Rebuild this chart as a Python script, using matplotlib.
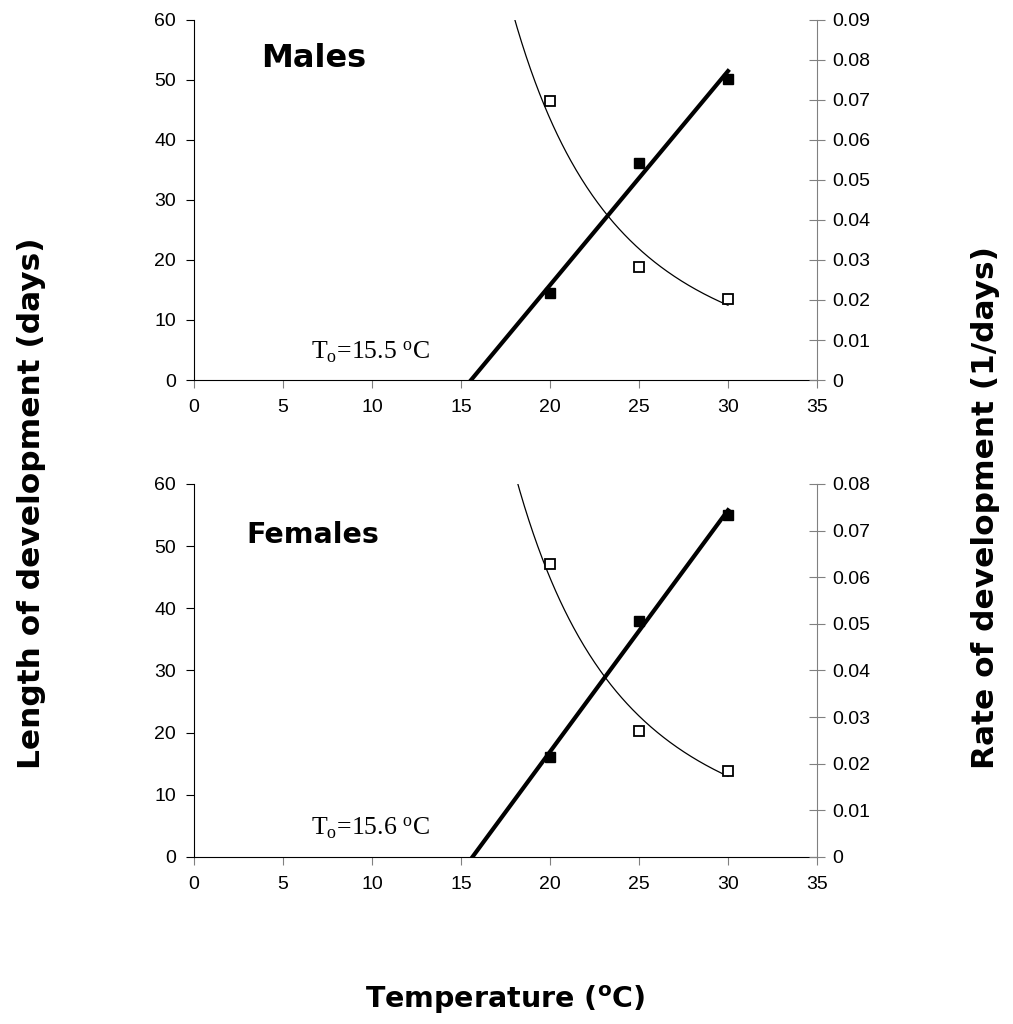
import numpy as np
import matplotlib.pyplot as plt

plt.rcParams['font.family'] = ['DejaVu Sans']
plt.rcParams['mathtext.default'] = 'regular'

# Temperatures (°C)
temps = [20, 25, 30]

# Males: length of development (days, left axis) and rate (1/days, right axis)
male_days = [46.5, 18.9, 13.5]
male_rate = [0.0218, 0.0543, 0.0753]

# Females
female_days = [47.2, 20.3, 13.8]
female_rate = [0.0215, 0.0506, 0.0733]

panels = [
    ('Males', male_days, male_rate, 0.09, 'T$_o$=15.5 $^o$C', 23, 53.5),
    ('Females', female_days, female_rate, 0.08, 'T$_o$=15.6 $^o$C', 20.5, 51.8),
]

fig = plt.figure(figsize=(10.13, 10.24), dpi=100)
rects = [[0.1915, 0.6289, 0.6150, 0.3516],
         [0.1915, 0.1631, 0.6150, 0.3643]]

for rect, (name, days, rate, rmax, to_label, fsize, ty) in zip(rects, panels):
    ax = fig.add_axes(rect)
    ax2 = ax.twinx()
    t = np.array(temps, dtype=float)

    # linear fit of rate -> threshold temperature
    slope, icpt = np.polyfit(t, rate, 1)
    t0 = -icpt / slope
    tl = np.array([t0, 30])
    ax2.plot(tl, slope * tl + icpt, color='black', lw=3.0, zorder=3)
    ax2.plot(t, rate, 's', color='black', ms=7.5, zorder=4)

    # power fit of length
    b, loga = np.polyfit(np.log(t), np.log(days), 1)
    tc = np.linspace(15, 30, 300)
    ax.plot(tc, np.exp(loga) * tc ** b, color='black', lw=0.9)
    ax.plot(t, days, 's', mfc='white', mec='black', mew=1.3, ms=7.5)

    ax.set_xlim(0, 35)
    ax.set_ylim(0, 60)
    ax2.set_ylim(0, rmax)
    ax.set_xticks(range(0, 36, 5))
    ax.set_yticks(range(0, 61, 10))
    ax2.set_yticks(np.arange(0, rmax + 1e-9, 0.01))
    ax2.set_yticklabels(['0'] + ['%.2f' % v for v in np.arange(0.01, rmax + 1e-9, 0.01)])

    for a in (ax, ax2):
        a.spines['top'].set_visible(False)
        a.patch.set_visible(False)
        for lab in a.get_xticklabels() + a.get_yticklabels():
            lab.set_family('Liberation Sans')
    ax.spines['right'].set_visible(False)
    ax2.spines['left'].set_visible(False)
    ax2.spines['bottom'].set_visible(False)
    ax2.spines['right'].set_color('#808080')
    ax.spines['left'].set_color('black')
    ax.spines['bottom'].set_color('black')

    ax.tick_params(axis='x', direction='out', length=6, color='#808080',
                   labelsize=14, pad=8)
    ax.tick_params(axis='y', direction='out', length=6, color='black',
                   labelsize=14, pad=7)
    ax2.tick_params(axis='y', direction='inout', length=12, color='#808080',
                    labelsize=14, pad=5)

    ax.text(6.7, ty, name, fontsize=fsize, fontweight='bold',
            ha='center', va='center')
    ax.text(6.6, 4.6, to_label, fontsize=18.5, family='Liberation Serif',
            ha='left', va='center')

fig.text(32 / 1013, 1 - 503 / 1024, 'Length of development (days)',
         rotation=90, fontsize=22.5, fontweight='bold', ha='center', va='center')
fig.text(985 / 1013, 1 - 508 / 1024, 'Rate of development (1/days)',
         rotation=90, fontsize=22.5, fontweight='bold', ha='center', va='center')
fig.text(505 / 1013, 1 - 1000 / 1024, 'Temperature ($^o$C)',
         fontsize=20.5, fontweight='bold', ha='center', va='center')

fig.savefig('out.png', dpi=100)
